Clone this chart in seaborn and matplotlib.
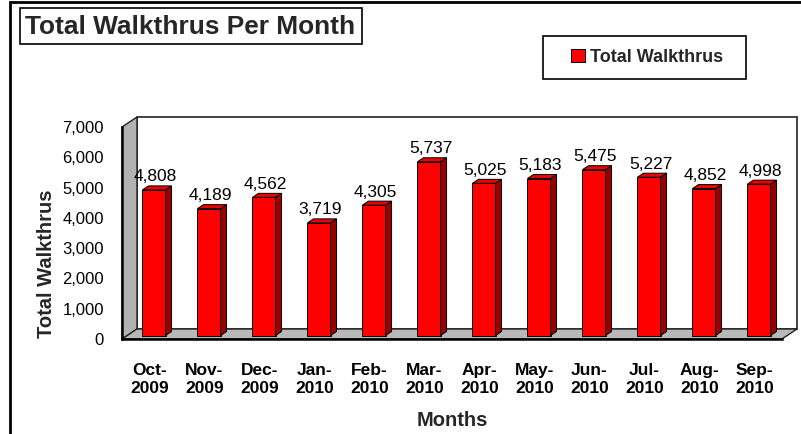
"""
Total Walkthrus Per Month - 3D-look column chart (Excel style) with seaborn.
"""

import matplotlib
matplotlib.use("Agg")
import matplotlib.pyplot as plt
import seaborn as sns
from matplotlib.patches import Polygon, Rectangle
from matplotlib.transforms import offset_copy

# ===================================================
# DATA
# ===================================================
months = ["Oct-\n2009", "Nov-\n2009", "Dec-\n2009", "Jan-\n2010", "Feb-\n2010", "Mar-\n2010",
          "Apr-\n2010", "May-\n2010", "Jun-\n2010", "Jul-\n2010", "Aug-\n2010", "Sep-\n2010"]
walkthrus = [4808, 4189, 4562, 3719, 4305, 5737, 5025, 5183, 5475, 5227, 4852, 4998]
y_ticks = [0, 1000, 2000, 3000, 4000, 5000, 6000, 7000]

# ===================================================
# SETTINGS
# ===================================================
W, H = 801, 434
WALL_DX, WALL_DY = 15, 10      # depth of the 3D box (pixels)
BAR_DX, BAR_DY = 4.5, 3.5      # bars sit a bit behind the front plane
SIDE_DX, SIDE_DY = 6, 4        # depth of each bar

sns.set_style("white")
plt.rcParams["font.family"] = ["Liberation Sans", "DejaVu Sans"]

fig = plt.figure(figsize=(W / 100, H / 100), dpi=100)
fig.patch.set_facecolor("white")

# front plane of the plot box, in pixels
ax_l, ax_r, ax_t, ax_b = 122, 782, 127, 339
ax = fig.add_axes([ax_l / W, (H - ax_b) / H, (ax_r - ax_l) / W, (ax_b - ax_t) / H])
ax.patch.set_visible(False)


def px(x, y):
    """pixel (from top-left) -> figure fraction"""
    return (x / W, 1 - y / H)


# -----> walls and floor
back = [px(ax_l + WALL_DX, ax_t - WALL_DY), px(ax_r + WALL_DX, ax_t - WALL_DY),
        px(ax_r + WALL_DX, ax_b - WALL_DY), px(ax_l + WALL_DX, ax_b - WALL_DY)]
ax.add_patch(Polygon(back, closed=True, facecolor="white", edgecolor="#333333", lw=1.3,
                     transform=fig.transFigure, clip_on=False, zorder=0))
left_wall = [px(ax_l, ax_b), px(ax_l, ax_t), px(ax_l + WALL_DX, ax_t - WALL_DY),
             px(ax_l + WALL_DX, ax_b - WALL_DY)]
ax.add_patch(Polygon(left_wall, closed=True, facecolor="#b2b2b2", edgecolor="#222222", lw=1.0,
                     transform=fig.transFigure, clip_on=False, zorder=0.5))
floor = [px(ax_l, ax_b), px(ax_r, ax_b), px(ax_r + WALL_DX, ax_b - WALL_DY),
         px(ax_l + WALL_DX, ax_b - WALL_DY)]
ax.add_patch(Polygon(floor, closed=True, facecolor="#b8b8b8", edgecolor="#222222", lw=1.0,
                     transform=fig.transFigure, clip_on=False, zorder=0.5))

# -----> bars (front faces)
sns.barplot(x=months, y=walkthrus, color="#ff0000", saturation=1, width=0.42,
            edgecolor="black", linewidth=0.7, label="Total Walkthrus", ax=ax, zorder=2)
if ax.get_legend() is not None:
    ax.get_legend().remove()
ax.set_xlim(-0.5, len(months) - 0.5)
ax.set_ylim(0, 7000)

bar_trans = offset_copy(ax.transData, fig=fig, x=BAR_DX, y=BAR_DY, units="dots")
inv = fig.transFigure.inverted()
for bar in ax.containers[0]:
    bar.set_transform(bar_trans)
    x0, w, h = bar.get_x(), bar.get_width(), bar.get_height()
    # corners in display pixels
    (lx, by), (rx, ty) = bar_trans.transform([(x0, 0), (x0 + w, h)])
    side = inv.transform([(rx, by), (rx, ty), (rx + SIDE_DX, ty + SIDE_DY), (rx + SIDE_DX, by + SIDE_DY)])
    top = inv.transform([(lx, ty), (rx, ty), (rx + SIDE_DX, ty + SIDE_DY), (lx + SIDE_DX, ty + SIDE_DY)])
    ax.add_patch(Polygon(side, closed=True, facecolor="#9a0000", edgecolor="black", lw=0.7,
                         transform=fig.transFigure, clip_on=False, zorder=2))
    ax.add_patch(Polygon(top, closed=True, facecolor="#ee0000", edgecolor="black", lw=0.7,
                         transform=fig.transFigure, clip_on=False, zorder=2))

# -----> value labels
for i, v in enumerate(walkthrus):
    ax.annotate(f"{v:,}", xy=(i, v), xytext=(6, 12), textcoords="offset pixels",
                ha="center", va="baseline", fontsize=12.5, color="black", zorder=3)

# -----> axes styling
for s in ["top", "right"]:
    ax.spines[s].set_visible(False)
for s in ["left", "bottom"]:
    ax.spines[s].set_color("black")
    ax.spines[s].set_linewidth(1.8)
    ax.spines[s].set_zorder(3)

ax.set_yticks(y_ticks)
ax.set_yticklabels([f"{t:,}" for t in y_ticks], fontsize=12)
ax.tick_params(axis="y", direction="in", length=3, width=1, pad=13, colors="black")
ax.tick_params(axis="x", direction="out", length=4, width=1, pad=13, colors="black")
for lab in ax.get_xticklabels():
    lab.set_fontsize(12.5)
    lab.set_fontweight("bold")
    lab.set_linespacing(1.25)

ax.set_ylabel("Total Walkthrus", fontsize=14.5, fontweight="bold")
ax.yaxis.set_label_coords(-66 / (ax_r - ax_l), (ax_b - 264) / (ax_b - ax_t))
ax.set_xlabel("Months", fontsize=14.5, fontweight="bold")
ax.xaxis.set_label_coords(0.5, (ax_b - 411) / (ax_b - ax_t))

# -----> title box
fig.patches.append(Rectangle(px(20, 44), 342 / W, 36 / H, transform=fig.transFigure,
                             facecolor="white", edgecolor="black", lw=1.2, zorder=1))
fig.text(190.5 / W, 1 - 26.5 / H, "Total Walkthrus Per Month", ha="center", va="center",
         fontsize=18.9, fontweight="bold", zorder=2)

# -----> legend box
fig.patches.append(Rectangle(px(543, 79), 203 / W, 43 / H, transform=fig.transFigure,
                             facecolor="white", edgecolor="black", lw=1.2, zorder=1))
handles, labels = ax.get_legend_handles_labels()
fig.legend(handles, labels, loc="center", bbox_to_anchor=px(647, 57.5), frameon=False,
           prop={"size": 13, "weight": "bold"}, handlelength=0.75, handleheight=0.75,
           handletextpad=0.3, borderpad=0)

# -----> outer chart border
fig.patches.append(Rectangle(px(10, 440), 800 / W, 438 / H, transform=fig.transFigure,
                             facecolor="none", edgecolor="black", lw=2, zorder=0))

fig.savefig("out.png", dpi=100)
plt.close(fig)
